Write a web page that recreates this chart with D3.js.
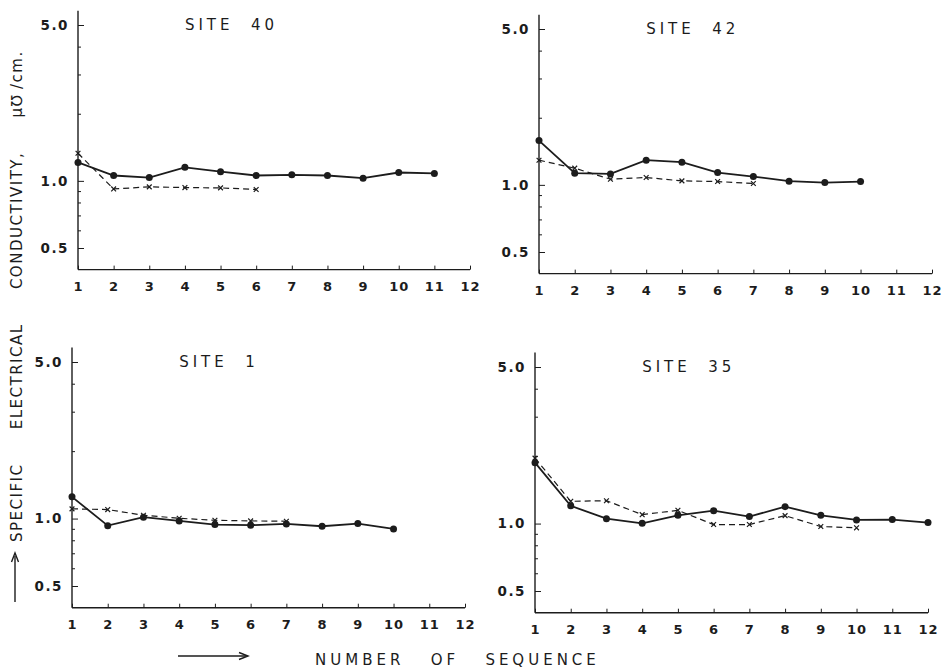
<!DOCTYPE html>
<html><head><meta charset="utf-8">
<script src="https://cdn.jsdelivr.net/npm/d3@7"></script>
<style>
html,body{margin:0;padding:0;background:#fff;}
svg{display:block;}
text{font-family:"DejaVu Sans",sans-serif;fill:#1c1c1c;}
</style></head>
<body><svg id="chart" width="943" height="668"></svg>
<script>
// ---- data ----
const sequence = [1,2,3,4,5,6,7,8,9,10,11,12];
const xTickLabels = ["1","2","3","4","5","6","7","8","9","10","11","12"];
const yMajorTicks = [0.5, 1.0, 5.0];
const yMajorLabels = ["0.5","1.0","5.0"];
const yMinorTicks = [0.6,0.7,0.8,0.9,2,3,4];
const siteNames = ["SITE  40","SITE  42","SITE  1","SITE  35"];
const site40Solid  = [1.21,1.057,1.035,1.15,1.10,1.057,1.064,1.057,1.028,1.09,1.08];
const site40Dashed = [1.33,0.92,0.94,0.933,0.93,0.915];
const site42Solid  = [1.58,1.128,1.12,1.29,1.264,1.136,1.09,1.039,1.024,1.035];
const site42Dashed = [1.29,1.188,1.06,1.079,1.042,1.035,1.014];
const site1Solid   = [1.25,0.93,1.014,0.976,0.94,0.934,0.946,0.924,0.95,0.899];
const site1Dashed  = [1.105,1.097,1.035,1.003,0.983,0.976,0.973];
const site35Solid  = [1.87,1.20,1.052,1.003,1.089,1.142,1.074,1.19,1.089,1.038,1.042,1.01];
const site35Dashed = [1.96,1.257,1.265,1.096,1.146,0.99,0.99,1.085,0.97,0.957];
const yLabel = "SPECIFIC ELECTRICAL CONDUCTIVITY, \u03BC\u2127\u2009/cm.";
const xLabel = "NUMBER   OF   SEQUENCE";

// ---- layout ----
const panels = [
  {name:siteNames[0], solid:site40Solid, dashed:site40Dashed, x0:78,  x1:470, yLo:248, yHi:25},
  {name:siteNames[1], solid:site42Solid, dashed:site42Dashed, x0:539, x1:932, yLo:252, yHi:29},
  {name:siteNames[2], solid:site1Solid,  dashed:site1Dashed,  x0:72,  x1:465, yLo:586, yHi:362},
  {name:siteNames[3], solid:site35Solid, dashed:site35Dashed, x0:535, x1:928, yLo:591, yHi:367}
];
const ink = "#1c1c1c";
const svg = d3.select("#chart");

panels.forEach(p => {
  const x = d3.scaleLinear().domain([1,12]).range([p.x0,p.x1]);
  const y = d3.scaleLog().domain([0.5,5]).range([p.yLo,p.yHi]);
  const g = svg.append("g");
  const yBottom = y(0.4), yTop = y(5.8);

  // axis lines
  g.append("line").attr("x1",x(1)).attr("x2",x(1)).attr("y1",yBottom).attr("y2",yTop)
    .attr("stroke",ink).attr("stroke-width",1.4);
  g.append("line").attr("x1",x(1)).attr("x2",x(12)).attr("y1",yBottom).attr("y2",yBottom)
    .attr("stroke",ink).attr("stroke-width",1.4);

  // x axis ticks
  const xAxis = d3.axisBottom(x).tickValues(sequence).tickFormat((d,i)=>xTickLabels[i])
    .tickSize(-4).tickPadding(12);
  const xa = g.append("g").attr("transform",`translate(0,${yBottom})`).call(xAxis);
  xa.select(".domain").remove();
  xa.selectAll("line").attr("stroke",ink).attr("stroke-width",1);
  xa.selectAll("text").attr("font-size",13).attr("font-weight","bold").attr("letter-spacing","1px")
    .attr("font-family","DejaVu Sans").attr("fill",ink);

  // y axis major ticks
  const yAxis = d3.axisLeft(y).tickValues(yMajorTicks).tickFormat((d,i)=>yMajorLabels[i])
    .tickSize(-6).tickPadding(9);
  const ya = g.append("g").attr("transform",`translate(${x(1)},0)`).call(yAxis);
  ya.select(".domain").remove();
  ya.selectAll("line").attr("stroke",ink).attr("stroke-width",1);
  ya.selectAll("text").attr("font-size",13.5).attr("font-weight","bold").attr("letter-spacing","1.5px")
    .attr("font-family","DejaVu Sans").attr("fill",ink);
  // minor ticks
  const ym = d3.axisLeft(y).tickValues(yMinorTicks).tickFormat("").tickSize(-3);
  const yma = g.append("g").attr("transform",`translate(${x(1)},0)`).call(ym);
  yma.select(".domain").remove();
  yma.selectAll("line").attr("stroke",ink).attr("stroke-width",1);

  // title
  g.append("text").attr("x",x(4)).attr("y",y(5)).attr("dy","0.36em")
    .attr("font-size",15).attr("letter-spacing","4px").style("white-space","pre")
    .text(p.name);

  // dashed series
  const dashedPts = p.dashed.map((v,i)=>[sequence[i],v]);
  const line = d3.line().x(d=>x(d[0])).y(d=>y(d[1]));
  g.append("path").attr("d",line(dashedPts)).attr("fill","none")
    .attr("stroke",ink).attr("stroke-width",1.2).attr("stroke-dasharray","6,4");
  const s = 2.4;
  g.selectAll(".xm").data(dashedPts).enter().append("path")
    .attr("d",d=>{const cx=x(d[0]),cy=y(d[1]);return `M${cx-s},${cy-s}L${cx+s},${cy+s}M${cx-s},${cy+s}L${cx+s},${cy-s}`;})
    .attr("stroke",ink).attr("stroke-width",1.2).attr("fill","none");

  // solid series
  const solidPts = p.solid.map((v,i)=>[sequence[i],v]);
  g.append("path").attr("d",line(solidPts)).attr("fill","none")
    .attr("stroke",ink).attr("stroke-width",1.8);
  g.selectAll(".dot").data(solidPts).enter().append("circle")
    .attr("cx",d=>x(d[0])).attr("cy",d=>y(d[1])).attr("r",3.5).attr("fill",ink);
});

// y-axis label with arrow
svg.append("line").attr("x1",15).attr("x2",15).attr("y1",602).attr("y2",556)
  .attr("stroke",ink).attr("stroke-width",1.4);
svg.append("path").attr("d","M11.5,562 L15,553 L18.5,562").attr("fill","none").attr("stroke",ink).attr("stroke-width",1.4);
svg.append("text").attr("transform","translate(21.5,542) rotate(-90)")
  .attr("font-size",15).attr("letter-spacing","1.5px").attr("word-spacing","28px")
  .text(yLabel);

// x-axis label with arrow
svg.append("line").attr("x1",178).attr("x2",246).attr("y1",656).attr("y2",656)
  .attr("stroke",ink).attr("stroke-width",1.4);
svg.append("path").attr("d","M239,652.5 L248,656 L239,659.5").attr("fill","none").attr("stroke",ink).attr("stroke-width",1.4);
svg.append("text").attr("x",315).attr("y",664.5)
  .attr("font-size",15).attr("letter-spacing","4px").style("white-space","pre")
  .text(xLabel);
</script></body></html>
